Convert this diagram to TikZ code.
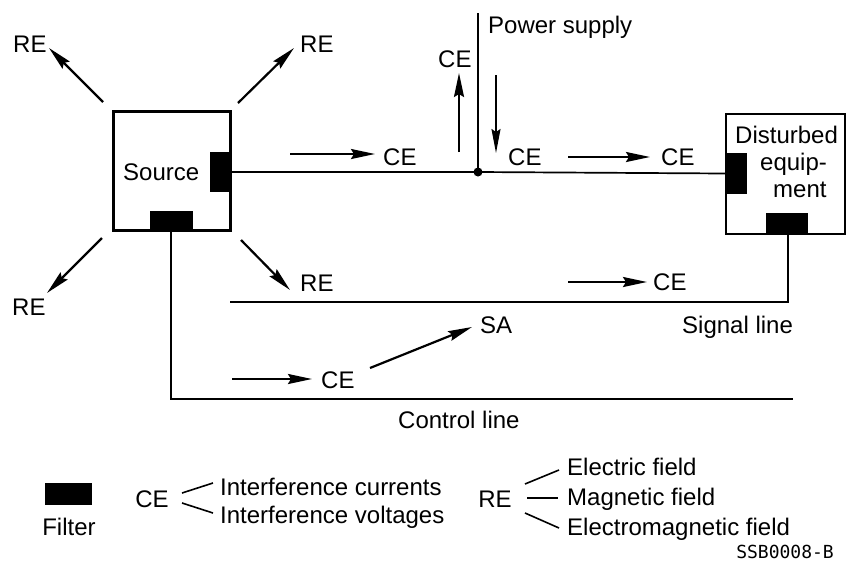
\documentclass[tikz,border=0pt]{standalone}
\usepackage{fontspec}
\setmainfont{Liberation Sans}
\newfontfamily\codefont{DejaVu Sans Mono}
\usetikzlibrary{arrows.meta}
\begin{document}
\begin{tikzpicture}[x=1pt,y=-1pt,
  lbl/.style={font=\fontsize{24}{27}\selectfont, inner sep=0pt, anchor=base west},
  box/.style={draw, line width=2.5pt, inner sep=0pt},
  filt/.style={fill=black, draw=none, inner sep=0pt},
  wire/.style={line width=1.7pt},
  arr/.style={line width=2.2pt, -{Stealth[length=24pt,width=10pt,inset=3pt]}},
  thinarr/.style={line width=1.7pt, -{Stealth[length=24pt,width=9pt,inset=3pt]}},
  legline/.style={line width=1.6pt}]
\useasboundingbox (0,0) rectangle (847,563);

% boxes
\node[box, minimum width=117pt, minimum height=119pt] (src) at (172,171) {};
\node[box, minimum width=119pt, minimum height=120pt] (dst) at (785.5,174) {};
% filters
\node[filt, minimum width=21pt, minimum height=40pt] (srcR) at (220.5,172) {};
\node[filt, minimum width=43pt, minimum height=20pt] (srcB) at (171.5,221) {};
\node[filt, minimum width=21pt, minimum height=41pt] (dstL) at (736,173.5) {};
\node[filt, minimum width=42pt, minimum height=21pt] (dstB) at (787,223.5) {};

% texts in boxes
\node[lbl] (srcT) at (123,180) {Source};
\node[lbl] (dstT1) at (735,143) {Disturbed};
\node[lbl] (dstT2) at (760,170) {equip-};
\node[lbl] (dstT3) at (773,197) {ment};

% power wiring
\coordinate (jn) at (478,172);
\coordinate (pstop) at (478,13);
\draw[wire] (srcR.east) -- (jn) -- (dstL.west);
\draw[wire] (pstop) -- (jn);
\fill (jn) circle (4.5pt);
\node[lbl] (ps) at (488,33) {Power supply};

% signal line
\coordinate (sigc) at (788,302);
\coordinate (sigl) at (230,302);
\draw[wire] (dstB.south -| sigc) -- (sigc) -- (sigl);
\node[lbl] (sigT) at (682,333) {Signal line};

% control line
\coordinate (ctlc) at (171,399);
\coordinate (ctlr) at (793,399);
\draw[wire] (srcB.south -| ctlc) -- (ctlc) -- (ctlr);
\node[lbl] (ctlT) at (398,428) {Control line};

% RE arrows
\coordinate (a1s) at (103,102); \coordinate (a1e) at (49,48);
\coordinate (a2s) at (238,103); \coordinate (a2e) at (294,48);
\coordinate (a3s) at (102,238); \coordinate (a3e) at (47,293);
\coordinate (a4s) at (241,240); \coordinate (a4e) at (290,290);
\draw[arr] (a1s) -- (a1e);
\draw[arr] (a2s) -- (a2e);
\draw[arr] (a3s) -- (a3e);
\draw[arr] (a4s) -- (a4e);
\node[lbl] (re1) at (13,52) {RE};
\node[lbl] (re2) at (300,52) {RE};
\node[lbl] (re3) at (12,315) {RE};
\node[lbl] (re4) at (300,291) {RE};

% CE arrows
\coordinate (c1s) at (290,154); \coordinate (c1e) at (375,154);
\coordinate (c2s) at (459,152); \coordinate (c2e) at (459,73);
\coordinate (c3s) at (496,75);  \coordinate (c3e) at (496,153);
\coordinate (c4s) at (568,157); \coordinate (c4e) at (650,157);
\coordinate (c5s) at (568,282); \coordinate (c5e) at (647,282);
\coordinate (c6s) at (232,379); \coordinate (c6e) at (312,379);
\coordinate (c7s) at (370,368); \coordinate (c7e) at (472,327);
\draw[arr] (c1s) -- (c1e);
\draw[arr] (c2s) -- (c2e);
\draw[thinarr] (c3s) -- (c3e);
\draw[arr] (c4s) -- (c4e);
\draw[arr] (c5s) -- (c5e);
\draw[arr] (c6s) -- (c6e);
\draw[arr] (c7s) -- (c7e);
\node[lbl] (ce1) at (383,165) {CE};
\node[lbl] (ce2) at (438,67) {CE};
\node[lbl] (ce3) at (508,165) {CE};
\node[lbl] (ce4) at (661,165) {CE};
\node[lbl] (ce5) at (653,290) {CE};
\node[lbl] (ce6) at (321,388) {CE};
\node[lbl] (sa) at (480,333) {SA};

% legend
\node[filt, minimum width=47pt, minimum height=22pt] (legF) at (68.5,494) {};
\node[lbl, anchor=base] (legFT) at (69,535) {Filter};
\node[lbl, anchor=base] (legCE) at (152,507) {CE};
\node[lbl] (legI1) at (220,495) {Interference currents};
\node[lbl] (legI2) at (220,523) {Interference voltages};
\coordinate (lc1) at (182,493); \coordinate (lc2) at (213,483);
\coordinate (lc3) at (182,503); \coordinate (lc4) at (213,513);
\draw[legline] (lc1) -- (lc2);
\draw[legline] (lc3) -- (lc4);
\node[lbl, anchor=base] (legRE) at (495,507) {RE};
\node[lbl] (legE1) at (567,475) {Electric field};
\node[lbl] (legE2) at (567,505) {Magnetic field};
\node[lbl] (legE3) at (567,535) {Electromagnetic field};
\coordinate (lr1) at (525,484); \coordinate (lr2) at (559,470);
\coordinate (lr3) at (527,498); \coordinate (lr4) at (558,498);
\coordinate (lr5) at (525,513); \coordinate (lr6) at (559,528);
\draw[legline] (lr1) -- (lr2);
\draw[legline] (lr3) -- (lr4);
\draw[legline] (lr5) -- (lr6);
\node[inner sep=0pt, anchor=base east, font=\codefont\fontsize{18}{20}\selectfont] (code) at (834,558) {SSB0008-B};
\end{tikzpicture}
\end{document}
